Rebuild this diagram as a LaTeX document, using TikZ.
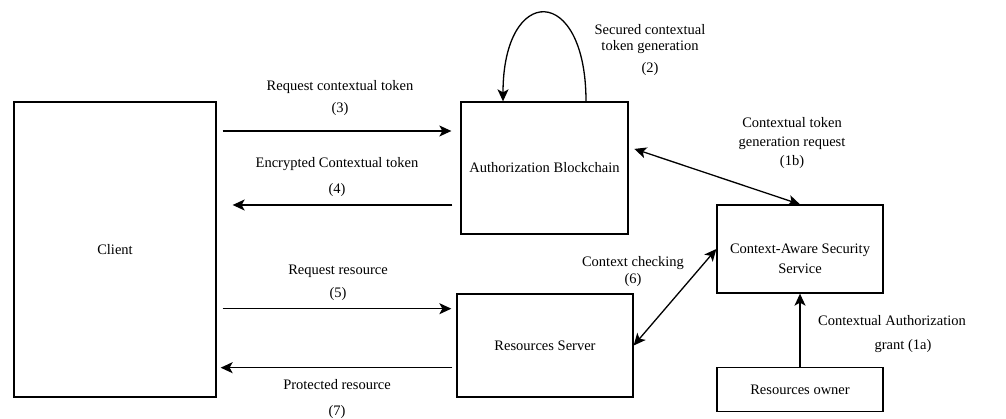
\documentclass[tikz,border=0pt]{standalone}
\usepackage{fontspec}
\setmainfont{Liberation Serif}
\usetikzlibrary{arrows.meta}

\begin{document}
\begin{tikzpicture}[x=1pt,y=-1pt,
	font=\fontsize{14.5}{17}\selectfont,
	>={Stealth[length=12pt,width=11pt,inset=3pt]},
	box/.style={draw,line width=1.3pt},
	flow/.style={->,line width=1.3pt},
	both/.style={<->,line width=1.3pt}]
	\useasboundingbox (0,0) rectangle (1006,419);
	\node[box,minimum width=202pt,minimum height=295pt](client) at (115,249.5){Client};
	\node[box,minimum width=167pt,minimum height=132pt](chain) at (544.5,168){Authorization Blockchain};
	\node[box,minimum width=176pt,minimum height=103pt](server) at (545,345.5){Resources Server};
	\node[box,minimum width=166pt,minimum height=88pt,
		label={[name=casstext,align=center,yshift=-10pt]center:Context-Aware Security\\[3pt]Service}](cass) at (800,249){};
	\node[box,minimum width=166pt,minimum height=44pt](owner) at (800,389.5){Resources owner};
	\draw[flow] ([xshift=41.5pt]chain.north) .. controls +(0,-118) and +(0,-118) .. ([xshift=-41.5pt]chain.north);
	\draw[flow,shorten <=6pt,shorten >=9pt] (client.east |- 0,131) -- (chain.west |- 0,131);
	\draw[flow,shorten <=8pt,shorten >=16pt] (chain.west |- 0,205) -- (client.east |- 0,205);
	\draw[flow,shorten <=6pt,shorten >=5pt] (client.east |- 0,308.7) -- (server.west |- 0,308.7);
	\draw[flow,shorten <=4pt,shorten >=4pt] (server.west |- 0,367.7) -- (client.east |- 0,367.7);
	\draw[both,shorten <=6pt] (chain.east |- 0,147) -- (cass.north);
	\draw[both] (server.east) -- (cass.west);
	\draw[flow] (owner) -- (cass);
	\node[align=center](l2) at (650,50){Secured contextual\\[-1pt]token generation\\[5pt](2)};
	\node[align=center](l3) at (340,98){Request contextual token\\[5pt](3)};
	\node[align=center](l4) at (337,177){Encrypted Contextual token\\[9pt](4)};
	\node[align=center](l5) at (338,282.5){Request resource\\[6pt](5)};
	\node[align=center](l7) at (337,399){Protected resource\\[9pt](7)};
	\node[align=center](l1b) at (792,143){Contextual token\\[2pt]generation request\\[2pt](1b)};
	\node[align=center](l6) at (633,271.5){Context checking\\(6)};
	\node[align=center](l1a) at (892,321){Contextual Authorization};
	\node(l1agrant) at (903,346){grant (1a)};
\end{tikzpicture}
\end{document}
